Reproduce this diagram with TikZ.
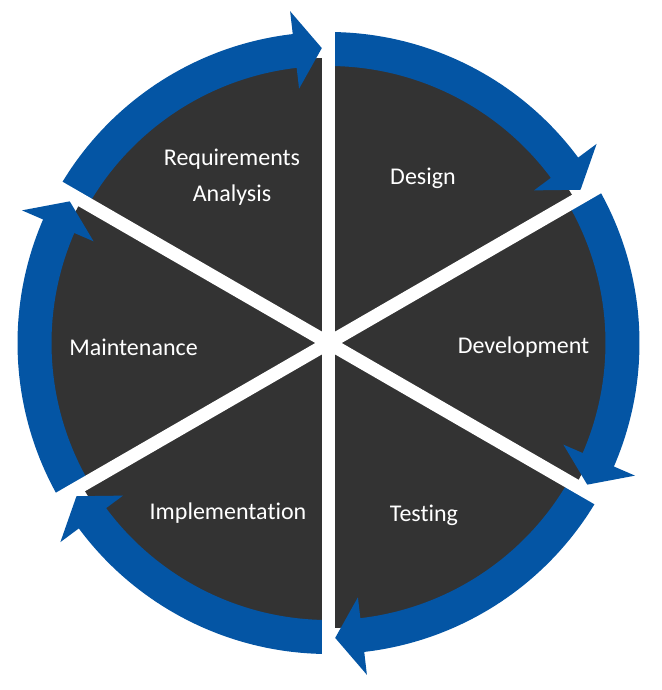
\documentclass[tikz,border=0pt]{standalone}
\usepackage{fontspec}
\setmainfont{Carlito}[Ligatures=NoCommon]
\usetikzlibrary{positioning}
\definecolor{band}{HTML}{0455A4}
\definecolor{disc}{HTML}{333333}
\definecolor{gap}{HTML}{FFFFFF}
\definecolor{label}{HTML}{FFFFFF}

\tikzset{
  phase/.style={text=label,font=\fontsize{12}{18}\selectfont,align=center,inner sep=0pt},
  split/.style={draw=gap,line width=6.6pt},
}

\begin{document}
\begin{tikzpicture}[x=0.5pt,y=0.5pt]
\useasboundingbox (-328.5,-347) rectangle (333.5,343);
\coordinate (c) at (0,0);
\fill[disc] (c) circle[radius=285];
% clockwise arrows, one per phase
\foreach \a in {90,30,-30,-90,-150,-210}{
  \pgfmathsetmacro\b{\a-60+6.6}
  \pgfmathsetmacro\t{\a-60+1.3}
  \fill[band] (\a:311) arc[start angle=\a,end angle=\b,radius=311] -- (\b:334) -- (\t:295) -- (\b:256) -- (\b:277) arc[start angle=\b,end angle=\a,radius=277] -- cycle;
}
% white splits between the phases
\foreach \a in {90,30,-30,-90,-150,-210}{
  \coordinate (e\a) at (\a:318);
  \draw[split] (c) -- (e\a);
}
\node[phase] (req) at (-96.5,165.5) {Requirements\\Analysis};
\node[phase] (design) at (94.5,164.5) {Design};
\node[phase] (dev) at (195,-4.5) {Development};
\node[phase] (test) at (95.5,-172.5) {Testing};
\node[phase] (impl) at (-100.5,-170.5) {Implementation};
\node[phase] (maint) at (-195,-4.5) {Maintenance};
\end{tikzpicture}
\end{document}
